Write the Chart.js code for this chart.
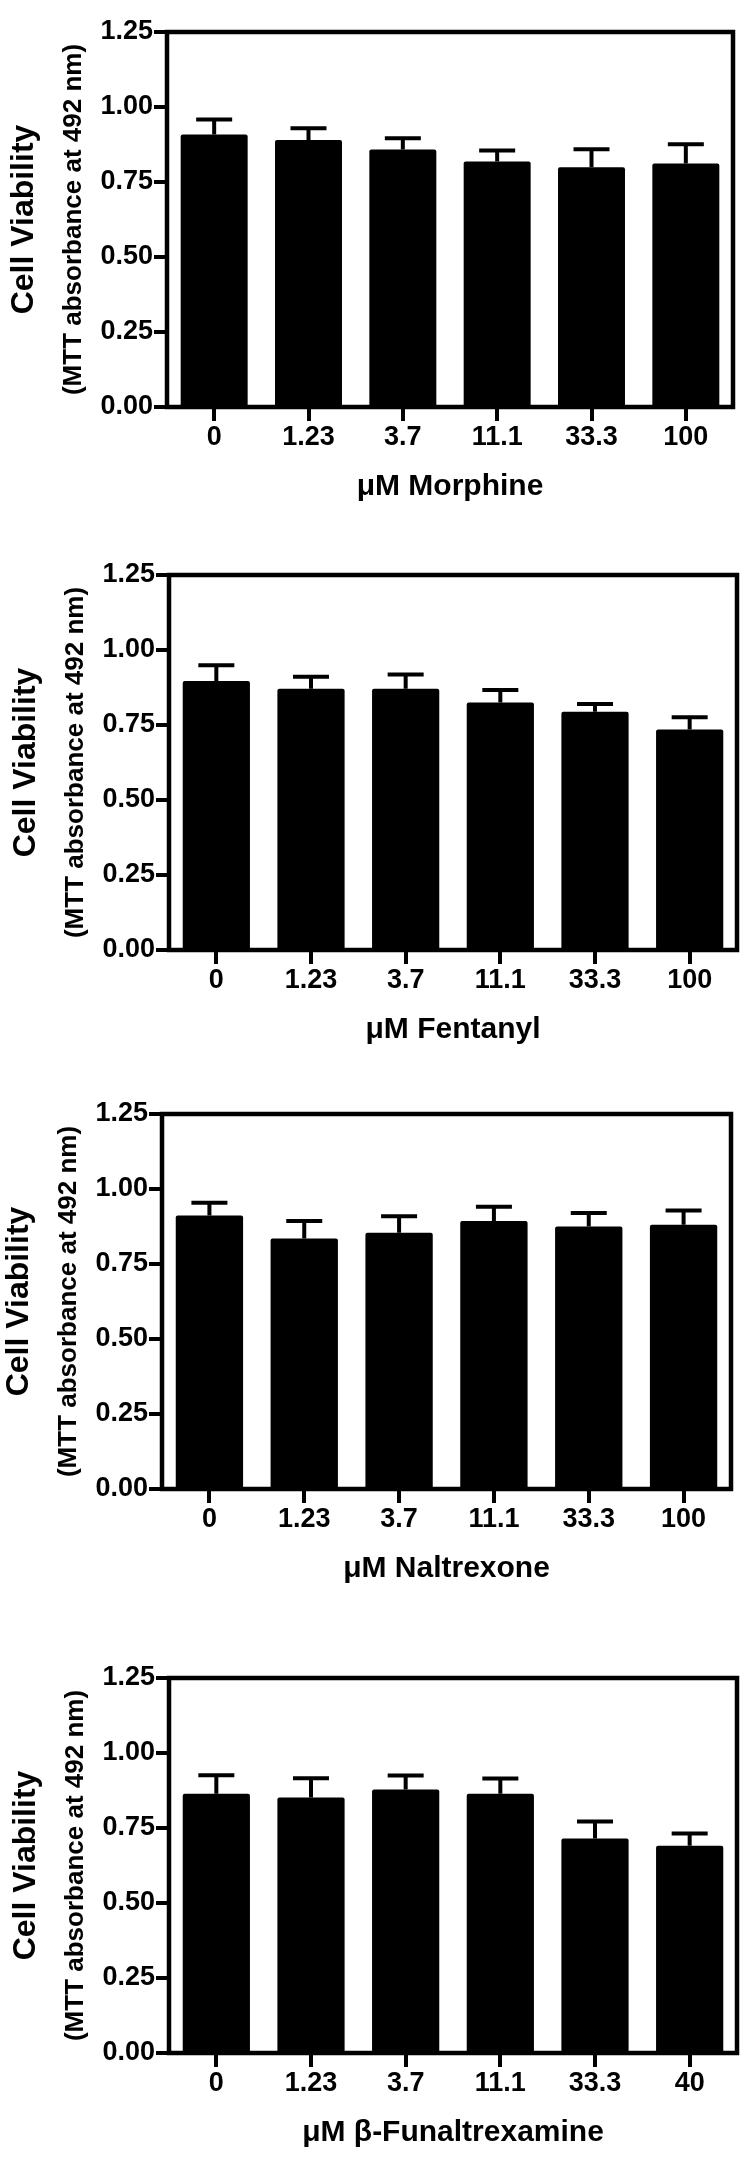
<!DOCTYPE html>
<html>
<head>
<meta charset="utf-8">
<script src="https://cdn.jsdelivr.net/npm/chart.js@4.4.1/dist/chart.umd.min.js"></script>
<style>
  html, body { margin: 0; padding: 0; background: #fff; }
  #page { position: relative; width: 753px; height: 2166px; background: #fff; }
  .panel { position: absolute; left: 0; width: 753px; height: 520px; }
</style>
</head>
<body>
<div id="page"></div>
<script>
// ── Data ──────────────────────────────────────────────
const DOSES = ['0', '1.23', '3.7', '11.1', '33.3', '100'];
const BFNA_DOSES = ['0', '1.23', '3.7', '11.1', '33.3', '40'];
const Y_TICKS = [0, 0.25, 0.5, 0.75, 1.0, 1.25];

const morphineMean = [0.908, 0.890, 0.858, 0.818, 0.799, 0.812];
const morphineSem = [0.050, 0.039, 0.038, 0.037, 0.060, 0.064];

const fentanylMean = [0.897, 0.871, 0.871, 0.825, 0.794, 0.735];
const fentanylSem = [0.052, 0.040, 0.047, 0.042, 0.026, 0.041];

const naltrexoneMean = [0.912, 0.835, 0.854, 0.893, 0.875, 0.881];
const naltrexoneSem = [0.042, 0.058, 0.055, 0.048, 0.045, 0.047];

const bfnaMean = [0.864, 0.852, 0.878, 0.864, 0.715, 0.691];
const bfnaSem = [0.062, 0.064, 0.047, 0.051, 0.057, 0.041];

const Y_TITLE = 'Cell Viability';
const Y_SUBTITLE = '(MTT absorbance at 492 nm)';

const PANELS = [
  { labels: DOSES, mean: morphineMean, sem: morphineSem, title: 'μM Morphine' },
  { labels: DOSES, mean: fentanylMean, sem: fentanylSem, title: 'μM Fentanyl' },
  { labels: DOSES, mean: naltrexoneMean, sem: naltrexoneSem, title: 'μM Naltrexone' },
  { labels: BFNA_DOSES, mean: bfnaMean, sem: bfnaSem, title: 'μM β-Funaltrexamine' },
];

// plot-area placement on the page (px)
const LAYOUT = [
  { top: 32, left: 167, right: 733 },
  { top: 575, left: 169, right: 737 },
  { top: 1114, left: 162, right: 731 },
  { top: 1678, left: 169, right: 737 },
];
const CANVAS_H = 520;
const PAD_TOP = 32;
const PLOT_H = 375;
const FONT = '"Liberation Sans", Arial, sans-serif';

Chart.defaults.font.family = FONT;
Chart.defaults.color = '#000';

// box round the plot area
const frame = {
  id: 'frame',
  afterDatasetsDraw(chart) {
    const { ctx, chartArea: a } = chart;
    ctx.save();
    ctx.strokeStyle = '#000';
    ctx.lineWidth = 4.5;
    ctx.strokeRect(a.left, a.top, a.right - a.left, a.bottom - a.top);
    ctx.restore();
  }
};

// upper SEM bars
const errorBars = {
  id: 'errorBars',
  afterDatasetsDraw(chart, args, opts) {
    const { ctx } = chart;
    const yScale = chart.scales.y;
    const meta = chart.getDatasetMeta(0);
    const values = chart.data.datasets[0].data;
    ctx.save();
    ctx.strokeStyle = '#000';
    ctx.lineWidth = 4;
    meta.data.forEach((bar, i) => {
      const yTop = yScale.getPixelForValue(values[i] + opts.sem[i]);
      ctx.beginPath();
      ctx.moveTo(bar.x, bar.y);
      ctx.lineTo(bar.x, yTop);
      ctx.moveTo(bar.x - 18, yTop);
      ctx.lineTo(bar.x + 18, yTop);
      ctx.stroke();
    });
    ctx.restore();
  }
};

// second line of the y title, in a smaller font
const ySubtitle = {
  id: 'ySubtitle',
  afterDraw(chart, args, opts) {
    const { ctx, chartArea: a } = chart;
    ctx.save();
    ctx.translate(opts.x, (a.top + a.bottom) / 2);
    ctx.rotate(-Math.PI / 2);
    ctx.font = 'bold 26px ' + FONT;
    ctx.fillStyle = '#000';
    ctx.textAlign = 'center';
    ctx.textBaseline = 'middle';
    ctx.fillText(opts.text, 0, 0);
    ctx.restore();
  }
};

const page = document.getElementById('page');

PANELS.forEach((p, i) => {
  const L = LAYOUT[i];
  const div = document.createElement('div');
  div.className = 'panel';
  div.style.top = (L.top - PAD_TOP) + 'px';
  const canvas = document.createElement('canvas');
  canvas.width = 753;
  canvas.height = CANVAS_H;
  div.appendChild(canvas);
  page.appendChild(div);

  new Chart(canvas, {
    type: 'bar',
    data: {
      labels: p.labels,
      datasets: [{
        data: p.mean,
        backgroundColor: '#000',
        borderWidth: 0,
        borderRadius: 2,
        borderSkipped: 'bottom',
        barPercentage: 0.71,
        categoryPercentage: 1,
      }],
    },
    options: {
      responsive: false,
      animation: false,
      devicePixelRatio: 1,
      layout: { padding: { top: PAD_TOP, right: 753 - L.right, left: 0, bottom: 0 } },
      plugins: {
        legend: { display: false },
        tooltip: { enabled: false },
        errorBars: { sem: p.sem },
        ySubtitle: { text: Y_SUBTITLE, x: L.left - 93 },
      },
      scales: {
        x: {
          border: { display: false },
          grid: { offset: false, drawOnChartArea: false, color: '#000', lineWidth: 4, tickLength: 14 },
          ticks: { color: '#000', font: { size: 27, weight: 'bold' }, padding: 0, maxRotation: 0 },
          title: {
            display: true, text: p.title, color: '#000',
            font: { size: 30, weight: 'bold' }, padding: { top: 0, bottom: 15 },
          },
          afterFit(s) { s.height = CANVAS_H - PAD_TOP - PLOT_H; },
        },
        y: {
          min: 0,
          max: 1.25,
          border: { display: false },
          grid: { drawOnChartArea: false, color: '#000', lineWidth: 4, tickLength: 13 },
          afterBuildTicks(s) { s.ticks = Y_TICKS.map(v => ({ value: v })); },
          ticks: {
            color: '#000', font: { size: 27, weight: 'bold' }, padding: 1,
            callback: v => Number(v).toFixed(2),
          },
          title: {
            display: true, text: Y_TITLE, color: '#000',
            font: { size: 32, weight: 'bold' }, padding: { top: L.left - 162, bottom: 0 },
          },
          afterFit(s) { s.width = L.left; },
        },
      },
    },
    plugins: [frame, errorBars, ySubtitle],
  });
});
</script>
</body>
</html>
